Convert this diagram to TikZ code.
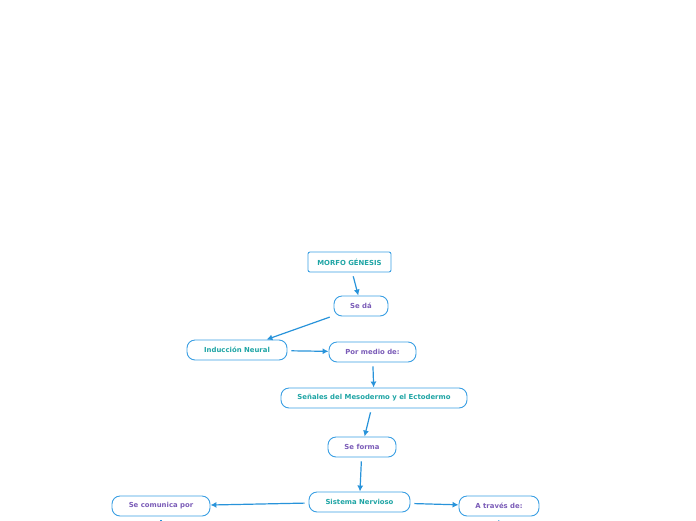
\documentclass[tikz,border=0pt]{standalone}
\usepackage{fontspec}
\newfontfamily\mapfont{DejaVu Sans}
\usepackage{tikz}
\usetikzlibrary{arrows.meta}

\definecolor{mapblue}{HTML}{3A9FE3}
\definecolor{mapline}{HTML}{2893DA}
\definecolor{mapteal}{HTML}{1FA5A5}
\definecolor{mappurple}{HTML}{7B5CB8}

\begin{document}
\begin{tikzpicture}[x=1pt,y=-1pt,>=Latex,
  topic/.style={draw=mapblue,line width=0.9pt,fill=white,rounded corners=8pt,minimum height=20pt,inner sep=1pt,font=\mapfont\bfseries\fontsize{6.9}{8}\selectfont},
  concept/.style={topic,text=mapteal},
  linker/.style={topic,text=mappurple},
  arr/.style={-{Latex[length=6pt,width=6pt]},mapline,line width=1.2pt,shorten <=4pt}]
\useasboundingbox (0,0) rectangle (696,520);
\node[concept,rounded corners=2pt,minimum width=83pt] (morfo) at (349.5,262) {MORFO GÉNESIS};
\node[linker,minimum width=54pt] (seda) at (361,306) {Se dá};
\node[concept,minimum width=100pt] (induccion) at (237,350) {Inducción Neural};
\node[linker,minimum width=87pt] (pormedio) at (372.5,352) {Por medio de:};
\node[concept,minimum width=186pt] (senales) at (374,398) {Señales del Mesodermo y el Ectodermo};
\node[linker,minimum width=68pt] (seforma) at (362,447) {Se forma};
\node[concept,minimum width=101pt] (sistema) at (359.5,502) {Sistema Nervioso};
\node[linker,minimum width=98pt] (comunica) at (161,506) {Se comunica por};
\node[linker,minimum width=80pt] (traves) at (499,506) {A través de:};
\coordinate (comunicaout) at (161,560);
\coordinate (travesout) at (498,560);
\draw[arr] (morfo) -- (seda);
\draw[arr] (seda) -- (induccion);
\draw[arr] (induccion) -- (pormedio);
\draw[arr] (pormedio) -- (senales);
\draw[arr] (senales) -- (seforma);
\draw[arr] (seforma) -- (sistema);
\draw[arr] (sistema) -- (comunica);
\draw[arr] (sistema) -- (traves);
\draw[arr] (comunica) -- (comunicaout);
\draw[arr] (traves) -- (travesout);
\end{tikzpicture}
\end{document}
